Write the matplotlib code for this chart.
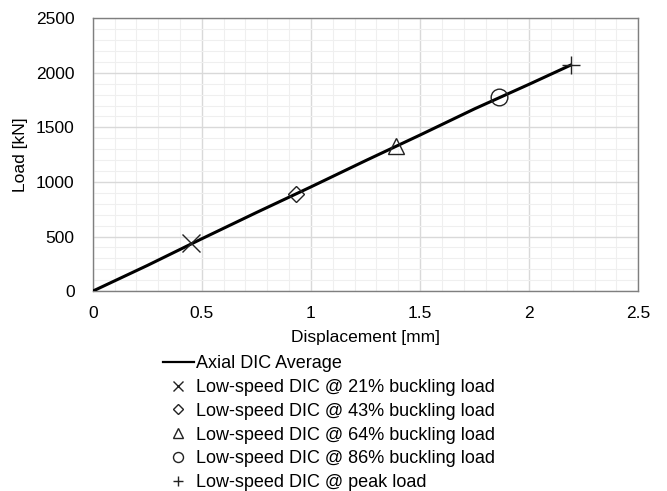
import numpy as np
import matplotlib.pyplot as plt
from matplotlib.ticker import MultipleLocator

plt.rcParams['font.family'] = ['Liberation Sans', 'DejaVu Sans']

# axial DIC average curve
disp = [0.0, 0.25, 0.5, 0.75, 1.0, 1.25, 1.5, 1.75, 2.0, 2.19]
load = [0, 235, 480, 720, 955, 1195, 1430, 1670, 1895, 2070]

# low-speed DIC points
pt_labels = ['Low-speed DIC @ 21% buckling load',
             'Low-speed DIC @ 43% buckling load',
             'Low-speed DIC @ 64% buckling load',
             'Low-speed DIC @ 86% buckling load',
             'Low-speed DIC @ peak load']
pt_disp = [0.45, 0.93, 1.39, 1.86, 2.19]
pt_load = [440, 890, 1330, 1780, 2070]
pt_markers = ['x', 'D', '^', 'o', '+']
pt_sizes = [13, 8, 12, 12, 13]

fig = plt.figure(figsize=(6.67, 4.91), dpi=100)
ax = fig.add_axes([0.139, 0.407, 0.818, 0.556])

ax.plot(disp, load, color='black', lw=2.2, label='Axial DIC Average', zorder=3)
for x, y, m, s, lab in zip(pt_disp, pt_load, pt_markers, pt_sizes, pt_labels):
    ax.plot([x], [y], linestyle='none', marker=m, ms=s, mfc='none',
            mec='#222222', mew=1.0, label=lab, zorder=4)

ax.set_xlim(0, 2.5)
ax.set_ylim(0, 2500)
ax.xaxis.set_major_locator(MultipleLocator(0.5))
ax.xaxis.set_minor_locator(MultipleLocator(0.1))
ax.yaxis.set_major_locator(MultipleLocator(500))
ax.yaxis.set_minor_locator(MultipleLocator(100))
ax.set_xticks([0, 0.5, 1, 1.5, 2, 2.5])
ax.set_xticklabels(['0', '0.5', '1', '1.5', '2', '2.5'])
ax.grid(which='major', color='#d9d9d9', lw=1.0)
ax.grid(which='minor', color='#efefef', lw=0.8)
ax.set_axisbelow(True)
ax.tick_params(which='both', length=0, labelsize=12.5)
ax.tick_params(axis='x', pad=11)
ax.tick_params(axis='y', pad=13)
for sp in ax.spines.values():
    sp.set_color('#7f7f7f')
    sp.set_linewidth(1.0)

ax.set_xlabel('Displacement [mm]', fontsize=12.5, labelpad=6)
ax.set_ylabel('Load [kN]', fontsize=12.5, labelpad=6)

leg = fig.legend(loc='upper left', bbox_to_anchor=(163/667, 1 - 355/491), frameon=False,
                 fontsize=13, handlelength=1.7, handletextpad=0.15, labelspacing=0.38,
                 borderaxespad=0, borderpad=0, markerscale=0.6)
leg.get_lines()[0].set_linewidth(1.6)

fig.savefig('out.png', dpi=100)
